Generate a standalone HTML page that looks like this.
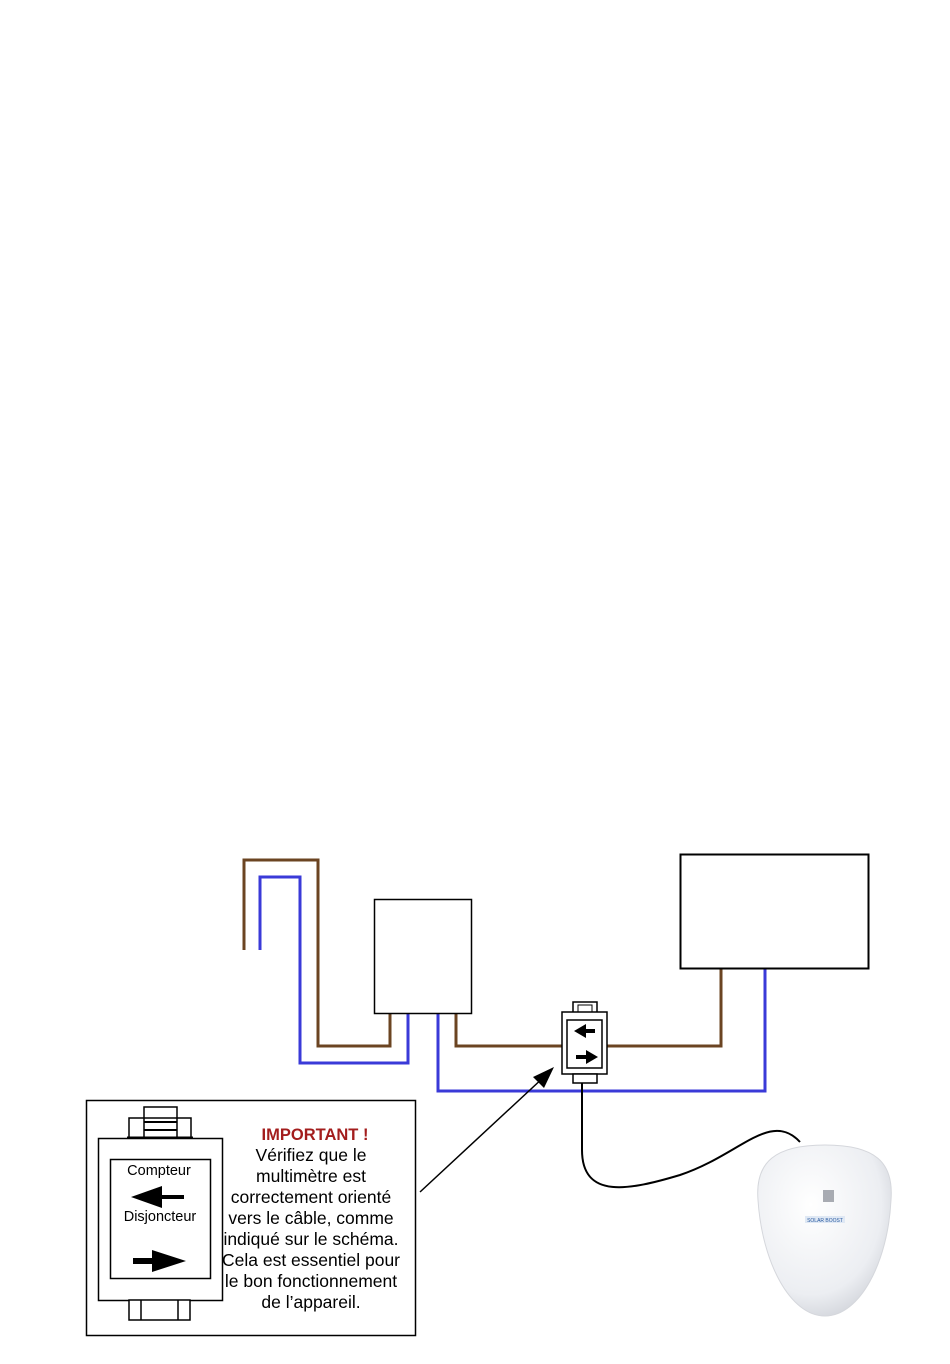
<!DOCTYPE html>
<html><head><meta charset="utf-8"><style>
body{margin:0;background:#fff;}
svg{display:block;font-family:"Liberation Sans",Arial,sans-serif;}
</style></head><body>
<svg width="950" height="1364" viewBox="0 0 950 1364" xmlns="http://www.w3.org/2000/svg">
<defs>
<radialGradient id="g" cx="0.4" cy="0.35" r="0.75">
<stop offset="0" stop-color="#ffffff"/><stop offset="0.7" stop-color="#eceef2"/><stop offset="1" stop-color="#c9ccd3"/>
</radialGradient>
</defs>
<g fill="none" stroke-width="3">
<polyline points="244,950 244,860 318,860 318,1046 390,1046 390,1012" stroke="#6b4422"/>
<polyline points="260,950 260,877 300,877 300,1063 408,1063 408,1012" stroke="#3a3ad8"/>
<polyline points="456,1012 456,1046 562,1046" stroke="#6b4422"/>
<polyline points="607,1046 721,1046 721,968" stroke="#6b4422"/>
<polyline points="438,1012 438,1091 765,1091 765,968" stroke="#3a3ad8"/>
</g>
<rect x="374.5" y="899.5" width="97" height="114" fill="#fff" stroke="#000" stroke-width="1.5"/>
<rect x="680.5" y="854.5" width="188" height="114" fill="#fff" stroke="#000" stroke-width="2"/>
<rect x="573" y="1002" width="24" height="12" fill="#fff" stroke="#000" stroke-width="1.5"/>
<rect x="578" y="1005" width="14" height="8" fill="none" stroke="#000" stroke-width="1"/>
<rect x="562" y="1012" width="45" height="62" fill="#fff" stroke="#000" stroke-width="1.5"/>
<rect x="567" y="1020" width="35" height="48" fill="none" stroke="#000" stroke-width="1.5"/>
<rect x="573" y="1074" width="24" height="9" fill="#fff" stroke="#000" stroke-width="1.5"/>
<path d="M595,1029 L586,1029 L586,1024 L574,1031 L586,1038 L586,1033 L595,1033Z" fill="#000"/>
<path d="M576,1055 L586,1055 L586,1050 L598,1057 L586,1064 L586,1059 L576,1059Z" fill="#000"/>
<path d="M582,1083 L582,1150 C582,1200 630,1190 680,1175 C740,1155 770,1110 800,1142" fill="none" stroke="#000" stroke-width="2"/>
<line x1="420" y1="1192" x2="545" y2="1076" stroke="#000" stroke-width="1.5"/>
<path d="M554,1067 L533,1077 L544,1088Z" fill="#000"/>
<path d="M825,1145 C875,1145 894,1162 891,1200 C888,1262 860,1316 825,1316 C790,1316 762,1262 758,1200 C755,1162 775,1145 825,1145Z" fill="url(#g)" stroke="#d5d7dc" stroke-width="1"/>
<rect x="823" y="1190" width="11" height="12" fill="#a8abb2"/>
<rect x="805" y="1216" width="40" height="7" fill="#dfe8f4"/>
<text x="825" y="1222" font-size="5" text-anchor="middle" fill="#2a5aa0">SOLAR BOOST</text>
<rect x="86.5" y="1100.5" width="329" height="235" fill="#fff" stroke="#000" stroke-width="1.5"/>
<rect x="144" y="1107" width="33" height="32" fill="#fff" stroke="#000" stroke-width="1.5"/>
<rect x="129" y="1118" width="62" height="20" fill="none" stroke="#000" stroke-width="1.5"/>
<line x1="144" y1="1122" x2="177" y2="1122" stroke="#000" stroke-width="2"/>
<line x1="144" y1="1130" x2="177" y2="1130" stroke="#000" stroke-width="2"/>
<line x1="127" y1="1138" x2="193" y2="1138" stroke="#000" stroke-width="3"/>
<rect x="98.5" y="1138.5" width="124" height="162" fill="#fff" stroke="#000" stroke-width="1.5"/>
<rect x="110.5" y="1159.5" width="100" height="119" fill="none" stroke="#000" stroke-width="1.5"/>
<rect x="129" y="1300" width="61" height="20" fill="#fff" stroke="#000" stroke-width="1.5"/>
<line x1="141" y1="1300" x2="141" y2="1320" stroke="#000" stroke-width="1.5"/>
<line x1="178" y1="1300" x2="178" y2="1320" stroke="#000" stroke-width="1.5"/>
<text x="159" y="1175" font-size="14.5" text-anchor="middle">Compteur</text>
<path d="M184,1195 L162,1195 L162,1186 L131,1197 L162,1208 L162,1199 L184,1199Z" fill="#000"/>
<text x="160" y="1221" font-size="14.5" text-anchor="middle">Disjoncteur</text>
<path d="M133,1258 L152,1258 L152,1250 L186,1261 L152,1272 L152,1264 L133,1264Z" fill="#000"/>
<g font-size="17.5" text-anchor="middle">
<text x="315" y="1140" fill="#a31d1d" font-weight="bold" font-size="16.5">IMPORTANT !</text>
<text x="311" y="1161">Vérifiez que le</text>
<text x="311" y="1182">multimètre est</text>
<text x="311" y="1203">correctement orienté</text>
<text x="311" y="1224">vers le câble, comme</text>
<text x="311" y="1245">indiqué sur le schéma.</text>
<text x="311" y="1266">Cela est essentiel pour</text>
<text x="311" y="1287">le bon fonctionnement</text>
<text x="311" y="1308">de l’appareil.</text>
</g>
</svg>
</body></html>
